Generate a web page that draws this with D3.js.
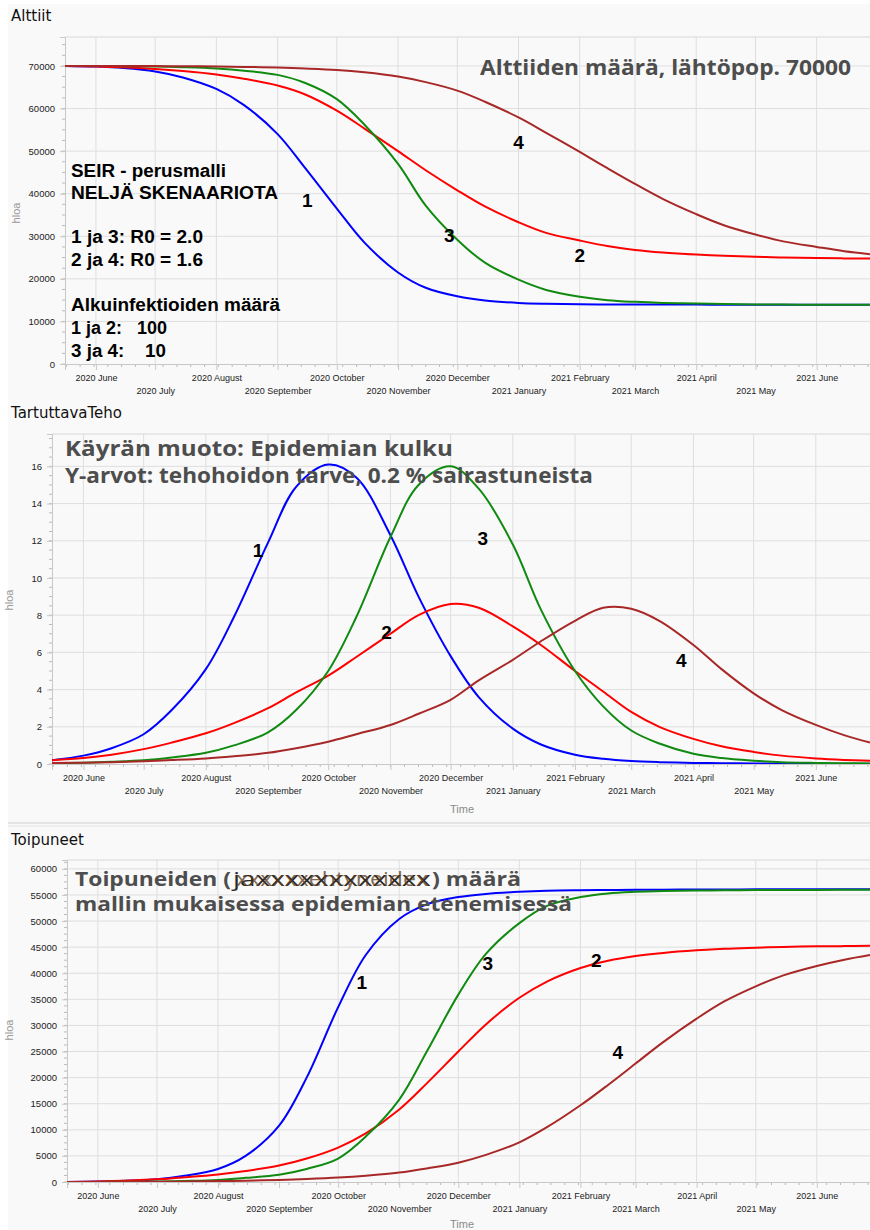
<!DOCTYPE html>
<html>
<head>
<meta charset="utf-8">
<script src="https://cdn.jsdelivr.net/npm/d3@7"></script>
<style>
body { margin: 0; background: #fff; }
svg { display: block; }
</style>
</head>
<body>
<svg id="chart" width="870" height="1230"></svg>
<script>
// sample dates (every ~half month)
var dates = ["2020-05-16", "2020-06-01", "2020-06-15", "2020-07-01", "2020-07-15", "2020-08-01", "2020-08-15",
             "2020-09-01", "2020-09-15", "2020-10-01", "2020-10-15", "2020-11-01", "2020-11-15", "2020-12-01",
             "2020-12-15", "2021-01-01", "2021-01-15", "2021-02-01", "2021-02-15", "2021-03-01", "2021-03-15",
             "2021-04-01", "2021-04-15", "2021-05-01", "2021-05-15", "2021-06-01", "2021-06-15", "2021-06-28"];

var seriesNames = ["1", "2", "3", "4"];
var seriesColors = ["#0000ff", "#ff0000", "#108a10", "#a82828"];

// Alttiit
var alttiit1 = [70000, 69850, 69500, 68700, 67300, 64600, 60800, 54000, 46000, 36500, 28500, 21500, 17900, 15900,
                14900, 14350, 14150, 14030, 13990, 13970, 13960, 13950, 13940, 13930, 13920, 13910, 13900, 13900];
var alttiit2 = [70000, 69900, 69700, 69300, 68800, 68000, 67000, 65400, 63300, 59500, 55300, 50000, 45500, 40800,
                37000, 33300, 30800, 29000, 27700, 26800, 26200, 25700, 25400, 25200, 25000, 24900, 24800, 24800];
var alttiit3 = [70000, 69980, 69940, 69850, 69700, 69400, 68900, 67900, 66000, 62200, 56200, 47000, 37200, 29200,
                23800, 19800, 17400, 15800, 15000, 14600, 14350, 14200, 14100, 14000, 13950, 13920, 13900, 13900];
var alttiit4 = [70000, 69990, 69980, 69960, 69930, 69870, 69780, 69620, 69400, 69050, 68500, 67500, 66200, 64200,
                61600, 57900, 54300, 49800, 46000, 42300, 38800, 35200, 32600, 30400, 28800, 27500, 26500, 25800];

// TartuttavaTeho
var teho1 = [0.2, 0.45, 0.85, 1.6, 2.9, 5.1, 7.9, 11.9, 14.9, 16.1, 15.4, 12.3, 9.0, 5.8,
             3.6, 1.9, 1.05, 0.5, 0.28, 0.16, 0.1, 0.06, 0.04, 0.03, 0.02, 0.02, 0.01, 0.01];
var teho2 = [0.2, 0.32, 0.5, 0.8, 1.15, 1.65, 2.2, 3.0, 3.85, 4.75, 5.75, 7.0, 8.0, 8.6,
             8.4, 7.4, 6.4, 5.0, 3.9, 2.8, 2.0, 1.35, 0.95, 0.65, 0.45, 0.3, 0.22, 0.17];
var teho3 = [0.04, 0.07, 0.12, 0.2, 0.35, 0.6, 1.0, 1.7, 2.9, 5.0, 7.9, 12.2, 15.0, 16.0,
             14.8, 11.8, 8.3, 5.0, 3.1, 1.8, 1.1, 0.55, 0.32, 0.18, 0.1, 0.06, 0.04, 0.03];
var teho4 = [0.05, 0.07, 0.1, 0.15, 0.21, 0.3, 0.42, 0.6, 0.85, 1.2, 1.6, 2.1, 2.7, 3.45,
             4.5, 5.6, 6.6, 7.7, 8.4, 8.35, 7.7, 6.4, 5.1, 3.8, 2.9, 2.1, 1.55, 1.15];

// Toipuneet
var toip1 = [0, 80, 250, 550, 1200, 2500, 5000, 10800, 20000, 33500, 43500, 50400, 53200, 54600,
             55200, 55600, 55800, 55900, 55950, 56000, 56020, 56040, 56060, 56080, 56090, 56100, 56100, 56100];
var toip2 = [0, 100, 260, 520, 900, 1450, 2100, 3150, 4500, 6600, 9300, 13900, 18900, 25000,
             30200, 35300, 38400, 41000, 42400, 43300, 43900, 44400, 44700, 44900, 45050, 45150, 45200, 45250];
var toip3 = [0, 15, 40, 100, 200, 400, 800, 1400, 2500, 4500, 8700, 15800, 25000, 35900,
             43700, 49600, 52900, 54600, 55300, 55600, 55760, 55850, 55900, 55930, 55950, 55970, 55980, 55990];
var toip4 = [0, 5, 20, 50, 100, 170, 260, 400, 580, 850, 1200, 1800, 2600, 3700,
             5200, 7600, 10500, 14700, 18600, 22700, 26800, 31300, 34600, 37500, 39600, 41400, 42600, 43500];

// curve number labels: [date, value]
var alttiitLabels = [["2020-09-16", 38500], ["2021-02-01", 25600], ["2020-11-27", 30300], ["2021-01-01", 52100]];
var tehoLabels = [["2020-08-27", 11.5], ["2020-10-30", 7.1], ["2020-12-17", 12.15], ["2021-03-26", 5.6]];
var toipLabels = [["2020-10-13", 38300], ["2021-02-09", 42500], ["2020-12-16", 42000], ["2021-02-20", 24900]];

var parse = d3.timeParse("%Y-%m-%d");
var monthFmt = d3.timeFormat("%Y %B");
var tickFont = "'Liberation Sans', Arial, sans-serif";

var svg = d3.select("#chart");
svg.append("rect")
    .attr("x", 8).attr("y", 4)
    .attr("width", 862).attr("height", 1226)
    .attr("fill", "#f9f9f9");

function panel(cfg) {
    var x = d3.scaleTime()
            .domain([new Date(2020, 4, 16, 8), new Date(2021, 5, 28)])
            .range([cfg.left, 870]),
        y = d3.scaleLinear()
            .domain([0, cfg.yMax])
            .range([cfg.bottom, cfg.top]);

    var g = svg.append("g");

    g.append("text")
        .attr("x", 11).attr("y", cfg.titleY)
        .style("font-family", "'DejaVu Sans', sans-serif")
        .style("font-size", "15px")
        .attr("fill", "#111")
        .text(cfg.title);

    var yTicks = d3.range(0, cfg.yMax, cfg.yStep);
    var months = x.ticks(d3.timeMonth.every(1));

    // grid
    g.selectAll(".hgrid").data(yTicks.slice(1)).join("line")
        .attr("x1", cfg.left).attr("x2", 870)
        .attr("y1", function(d) { return y(d); })
        .attr("y2", function(d) { return y(d); })
        .attr("stroke", "#dedede");
    g.append("line")
        .attr("x1", cfg.left).attr("x2", 870)
        .attr("y1", cfg.top).attr("y2", cfg.top)
        .attr("stroke", "#d8d8d8");
    g.selectAll(".vgrid").data(months).join("line")
        .attr("x1", function(d) { return x(d); })
        .attr("x2", function(d) { return x(d); })
        .attr("y1", cfg.top).attr("y2", cfg.bottom)
        .attr("stroke", "#dedede");

    // minor ticks
    g.selectAll(".xminor").data(x.ticks(d3.timeWeek.every(1))).join("line")
        .attr("x1", function(d) { return x(d); })
        .attr("x2", function(d) { return x(d); })
        .attr("y1", cfg.bottom).attr("y2", cfg.bottom + 3)
        .attr("stroke", "#bbb");
    g.selectAll(".yminor").data(d3.range(0, cfg.yMax, cfg.yStep / 4)).join("line")
        .attr("x1", cfg.left - 3).attr("x2", cfg.left)
        .attr("y1", function(d) { return y(d); })
        .attr("y2", function(d) { return y(d); })
        .attr("stroke", "#bbb");

    // x axis, month labels on two alternating rows
    var xAxis = d3.axisBottom(x)
        .tickValues(months)
        .tickFormat(monthFmt)
        .tickSize(6);
    var ax = g.append("g")
        .attr("transform", "translate(0," + cfg.bottom + ")")
        .call(xAxis);
    ax.select(".domain").attr("stroke", "#c8c8c8");
    ax.selectAll(".tick line").attr("stroke", "#c8c8c8");
    ax.selectAll(".tick text")
        .attr("y", function(d) { return d.getMonth() % 2 ? 11 : 24; })
        .attr("fill", "#222")
        .style("font-family", tickFont)
        .style("font-size", "9px");

    // y axis
    var yAxis = d3.axisLeft(y)
        .tickValues(yTicks)
        .tickFormat(d3.format("d"))
        .tickSize(5)
        .tickPadding(5);
    var ay = g.append("g")
        .attr("transform", "translate(" + cfg.left + ",0)")
        .call(yAxis);
    ay.select(".domain").attr("stroke", "#c8c8c8");
    ay.selectAll(".tick line").attr("stroke", "#c8c8c8");
    ay.selectAll(".tick text")
        .attr("fill", "#222")
        .style("font-family", tickFont)
        .style("font-size", "9.5px");

    g.append("text")
        .attr("transform", "translate(" + cfg.ylabX + "," + cfg.ylabY + ") rotate(-90)")
        .attr("text-anchor", "middle")
        .attr("fill", "#9a9a9a")
        .style("font-family", tickFont)
        .style("font-size", "11px")
        .text("hloa");

    if (cfg.timeY) {
        g.append("text")
            .attr("x", 462).attr("y", cfg.bottom + cfg.timeY)
            .attr("text-anchor", "middle")
            .attr("fill", "#8a8a8a")
            .style("font-family", tickFont)
            .style("font-size", "11px")
            .text("Time");
    }

    // clip for the curves
    var clipId = "clip" + cfg.title;
    g.append("clipPath").attr("id", clipId)
        .append("rect")
        .attr("x", cfg.left).attr("y", cfg.top - 2)
        .attr("width", 870 - cfg.left).attr("height", cfg.bottom - cfg.top + 2);

    var line = d3.line()
        .x(function(d) { return x(d.date); })
        .y(function(d) { return y(d.v); })
        .curve(d3.curveCatmullRom.alpha(0.5));

    var series = cfg.series.map(function(vals, i) {
        return { name: seriesNames[i], color: seriesColors[i],
                 values: vals.map(function(v, j) { return { date: parse(dates[j]), v: v }; }) };
    });

    g.append("g").attr("clip-path", "url(#" + clipId + ")")
        .selectAll("path").data(series).join("path")
        .attr("fill", "none")
        .attr("stroke", function(d) { return d.color; })
        .attr("stroke-width", 2)
        .attr("d", function(d) { return line(d.values); });

    g.selectAll(".num").data(cfg.labels).join("text")
        .attr("x", function(d) { return x(parse(d[0])); })
        .attr("y", function(d) { return y(d[1]); })
        .attr("dy", "0.36em")
        .attr("text-anchor", "middle")
        .style("font-family", "'Liberation Sans', Arial, sans-serif")
        .style("font-weight", "bold")
        .style("font-size", "19px")
        .attr("fill", "#000")
        .text(function(d, i) { return seriesNames[i]; });

    return g;
}

function bigText(g, str, xPos, yPos, len, size, fill, weight, family) {
    return g.append("text")
        .attr("x", xPos).attr("y", yPos)
        .attr("textLength", len)
        .attr("lengthAdjust", "spacingAndGlyphs")
        .style("font-family", family || "'Open Sans', 'Liberation Sans', sans-serif")
        .style("font-weight", weight || "bold")
        .style("font-size", size + "px")
        .style("white-space", "pre")
        .attr("fill", fill)
        .text(str);
}

// panel 1
var p1 = panel({ title: "Alttiit", titleY: 21, left: 65, top: 37, bottom: 364, yMax: 76800, yStep: 10000,
                 ylabX: 20, ylabY: 213, series: [alttiit1, alttiit2, alttiit3, alttiit4], labels: alttiitLabels });
bigText(p1, "Alttiiden määrä, lähtöpop. 70000", 480, 75, 371, 22, "#4d4d4d");
var infoLines = [["SEIR - perusmalli", 177, 155], ["NELJÄ SKENAARIOTA", 199, 207],
                 ["1 ja 3: R0 = 2.0", 243, 132], ["2 ja 4: R0 = 1.6", 266, 132],
                 ["Alkuinfektioiden määrä", 311, 209], ["1 ja 2:   100", 334, 96], ["3 ja 4:    10", 357, 95]];
infoLines.forEach(function(d) {
    bigText(p1, d[0], 71, d[1], d[2], 18, "#000", "bold", "'Liberation Sans', Arial, sans-serif");
});

// panel 2
var p2 = panel({ title: "TartuttavaTeho", titleY: 418, left: 52, top: 434, bottom: 764, yMax: 17.74, yStep: 2,
                 ylabX: 13, ylabY: 600, timeY: 49, series: [teho1, teho2, teho3, teho4], labels: tehoLabels });
bigText(p2, "Käyrän muoto: Epidemian kulku", 65, 456, 388, 21, "#4d4d4d");
bigText(p2, "Y-arvot: tehohoidon tarve, 0.2 % sairastuneista", 65, 483, 528, 21, "#4d4d4d");

// separator
svg.append("line").attr("x1", 8).attr("x2", 870).attr("y1", 823).attr("y2", 823).attr("stroke", "#d0d0d0");
svg.append("line").attr("x1", 8).attr("x2", 870).attr("y1", 826).attr("y2", 826).attr("stroke", "#e4e4e4");

// panel 3
var p3 = panel({ title: "Toipuneet", titleY: 845, left: 67, top: 860, bottom: 1182, yMax: 61700, yStep: 5000,
                 ylabX: 13, ylabY: 1030, timeY: 46, series: [toip1, toip2, toip3, toip4], labels: toipLabels });
bigText(p3, "Toipuneiden (", 75, 886, 156, 20, "#4d4d4d");
bigText(p3, "jaxxxxxxxxxxxx", 233, 886, 198, 20, "#2a2a2a", "normal");
bigText(p3, "xxxxxxehtyneidex", 236, 886, 192, 20, "#5a3a1a", "normal").attr("opacity", 0.75);
bigText(p3, ") määrä", 432, 886, 89, 20, "#4d4d4d");
bigText(p3, "mallin mukaisessa epidemian etenemisessä", 75, 911, 497, 20, "#4d4d4d");
</script>
</body>
</html>
